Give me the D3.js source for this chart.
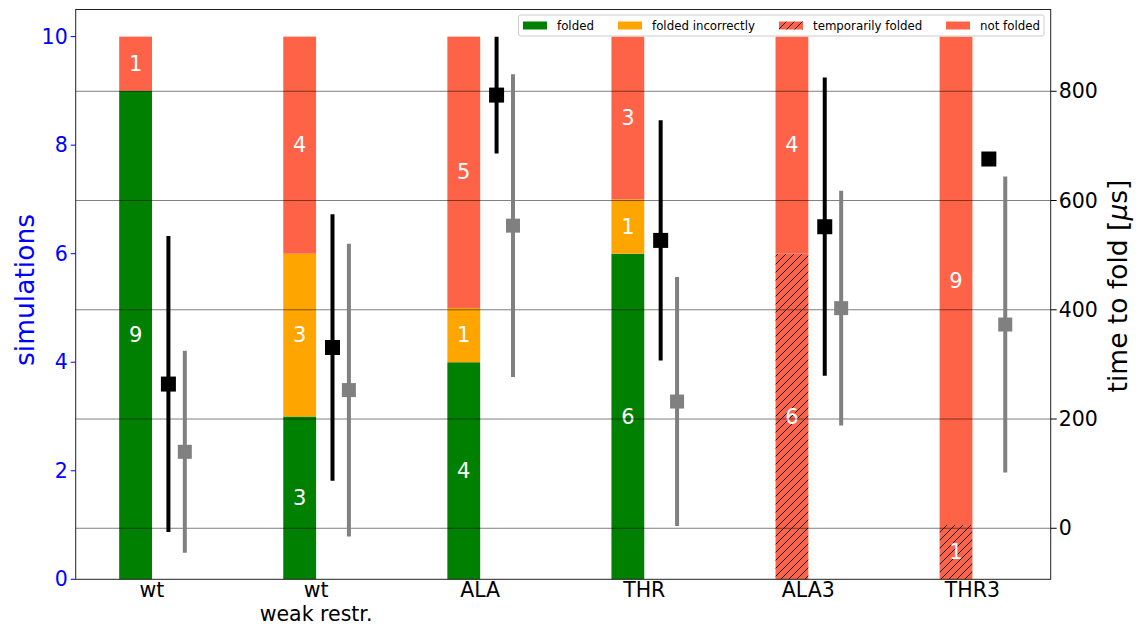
<!DOCTYPE html>
<html>
<head>
<meta charset="utf-8">
<script src="https://cdn.jsdelivr.net/npm/d3@7"></script>
<style>
  html, body { margin: 0; padding: 0; background: #fff; }
  svg { display: block; font-family: "DejaVu Sans", sans-serif; }
</style>
</head>
<body>
<svg id="chart" width="1139" height="626"></svg>
<script>
// Simulation outcomes per variant (number of runs, 10 each)
const categories = ["wt", "wt\nweak restr.", "ALA", "THR", "ALA3", "THR3"];
const folded            = [9, 3, 4, 6, 0, 0];
const foldedIncorrectly = [0, 3, 1, 1, 0, 0];
const temporarilyFolded = [0, 0, 0, 0, 6, 1];
const notFolded         = [1, 4, 5, 3, 4, 9];

// Time to fold [µs]: mean and standard deviation, two estimates
const timeMean  = [264, 331, 793, 527, 552, 676];
const timeSd    = [271, 244, 107, 220, 273, 0];
const time2Mean = [140, 253, 554, 232, 403, 373];
const time2Sd   = [185, 268, 277, 228, 215, 271];

const leftTicks  = [0, 2, 4, 6, 8, 10];
const rightTicks = [0, 200, 400, 600, 800];

const segmentNames  = ["folded", "folded incorrectly", "temporarily folded", "not folded"];
const segmentColors = ["#008000", "#ffa500", "url(#hatch)", "#ff6347"];

const svg = d3.select("#chart");
const plot = { left: 75.7, right: 1050.7, top: 9.5, bottom: 579.3 };

const x  = d3.scaleLinear().domain([-0.465, 5.477]).range([plot.left, plot.right]);
const yL = d3.scaleLinear().domain([0, 10.5]).range([plot.bottom, plot.top]);
const yR = d3.scaleLinear().domain([-93.4, 949.7]).range([plot.bottom, plot.top]);

// Diagonal hatch used for "temporarily folded"
const defs = svg.append("defs");
const pat = defs.append("pattern")
  .attr("id", "hatch").attr("patternUnits", "userSpaceOnUse")
  .attr("width", 8).attr("height", 8);
pat.append("rect").attr("width", 8).attr("height", 8).attr("fill", "#ff6347");
pat.append("path")
  .attr("d", "M0,8 L8,0 M-2,2 L2,-2 M6,10 L10,6")
  .attr("stroke", "#000").attr("stroke-width", 0.9);

const clip = defs.append("clipPath").attr("id", "plotClip");
clip.append("rect").attr("x", plot.left).attr("y", plot.top)
  .attr("width", plot.right - plot.left).attr("height", plot.bottom - plot.top);

// Stacked bars
const series = [folded, foldedIncorrectly, temporarilyFolded, notFolded];
const rows = categories.map((c, i) => {
  const r = { i };
  segmentNames.forEach((n, k) => r[n] = series[k][i]);
  return r;
});
const stacked = d3.stack().keys(segmentNames)(rows);
const barW = 0.2;

const barG = svg.append("g");
stacked.forEach((layer, k) => {
  layer.forEach(d => {
    const v = d[1] - d[0];
    if (v <= 0) return;
    const i = d.data.i;
    barG.append("rect")
      .attr("x", x(i - barW))
      .attr("width", x(i) - x(i - barW))
      .attr("y", yL(d[1]))
      .attr("height", yL(d[0]) - yL(d[1]))
      .attr("fill", segmentColors[k]);
    barG.append("text")
      .attr("x", x(i - barW / 2))
      .attr("y", yL((d[0] + d[1]) / 2))
      .attr("text-anchor", "middle")
      .attr("dominant-baseline", "central")
      .attr("fill", "#fff")
      .attr("font-size", 21)
      .text(v);
  });
});

// Horizontal grid at the right-axis ticks
svg.append("g").selectAll("line").data(rightTicks).join("line")
  .attr("x1", plot.left).attr("x2", plot.right)
  .attr("y1", d => yR(d)).attr("y2", d => yR(d))
  .attr("stroke", "#000").attr("stroke-opacity", 0.5).attr("stroke-width", 1);

// Error bars (mean ± sd) on the right axis
function errorSeries(means, sds, offset, color, size) {
  const g = svg.append("g").attr("clip-path", "url(#plotClip)");
  means.forEach((m, i) => {
    const cx = x(i + offset);
    if (sds[i] > 0) {
      g.append("line")
        .attr("x1", cx).attr("x2", cx)
        .attr("y1", yR(m - sds[i])).attr("y2", yR(m + sds[i]))
        .attr("stroke", color).attr("stroke-width", 4);
    }
    g.append("rect")
      .attr("x", cx - size / 2).attr("y", yR(m) - size / 2)
      .attr("width", size).attr("height", size)
      .attr("fill", color);
  });
}
errorSeries(timeMean, timeSd, 0.1, "#000", 15);
errorSeries(time2Mean, time2Sd, 0.2, "#808080", 14);

// Frame
svg.append("rect")
  .attr("x", plot.left).attr("y", plot.top)
  .attr("width", plot.right - plot.left).attr("height", plot.bottom - plot.top)
  .attr("fill", "none").attr("stroke", "#222").attr("stroke-width", 1);

// Left axis (simulations)
const leftAxis = svg.append("g");
leftTicks.forEach(t => {
  leftAxis.append("line")
    .attr("x1", plot.left - 5).attr("x2", plot.left)
    .attr("y1", yL(t)).attr("y2", yL(t))
    .attr("stroke", "#0000ff").attr("stroke-width", 1);
  leftAxis.append("text")
    .attr("x", plot.left - 8).attr("y", yL(t))
    .attr("text-anchor", "end").attr("dominant-baseline", "central")
    .attr("fill", "#0000ff").attr("font-size", 20.5)
    .text(t);
});
svg.append("text")
  .attr("transform", `translate(24,290) rotate(-90)`)
  .attr("text-anchor", "middle").attr("dominant-baseline", "central")
  .attr("fill", "#0000ff").attr("font-size", 26.5)
  .text("simulations");

// Right axis (time to fold)
const rightAxis = svg.append("g");
rightTicks.forEach(t => {
  rightAxis.append("line")
    .attr("x1", plot.right).attr("x2", plot.right + 6)
    .attr("y1", yR(t)).attr("y2", yR(t))
    .attr("stroke", "#000").attr("stroke-width", 1);
  rightAxis.append("text")
    .attr("x", plot.right + 8).attr("y", yR(t))
    .attr("dominant-baseline", "central")
    .attr("fill", "#000").attr("font-size", 20.5)
    .text(t);
});
const rLabel = svg.append("text")
  .attr("transform", `translate(1117,286) rotate(-90)`)
  .attr("text-anchor", "middle").attr("dominant-baseline", "central")
  .attr("fill", "#000").attr("font-size", 26.5);
rLabel.append("tspan").text("time to fold [");
rLabel.append("tspan").attr("font-style", "italic").text("\u03bc");
rLabel.append("tspan").text("s]");

// Category labels
categories.forEach((c, i) => {
  const lines = c.split("\n");
  const t = svg.append("text")
    .attr("x", x(i)).attr("y", 597)
    .attr("text-anchor", "middle")
    .attr("fill", "#000").attr("font-size", 20.5);
  lines.forEach((ln, j) => {
    t.append("tspan").attr("x", x(i)).attr("dy", j === 0 ? 0 : 24).text(ln);
  });
});

// Legend
const legend = svg.append("g");
legend.append("rect")
  .attr("x", 518.5).attr("y", 15).attr("width", 525.5).attr("height", 21)
  .attr("rx", 2).attr("fill", "#fff").attr("fill-opacity", 0.85)
  .attr("stroke", "#ccc").attr("stroke-width", 1);
const legendX = [523, 618, 779, 946];
segmentNames.forEach((n, k) => {
  legend.append("rect")
    .attr("x", legendX[k]).attr("y", 21.5).attr("width", 24).attr("height", 8)
    .attr("fill", segmentColors[k]);
  legend.append("text")
    .attr("x", legendX[k] + 34).attr("y", 25.5)
    .attr("dominant-baseline", "central")
    .attr("fill", "#000").attr("font-size", 11.8)
    .text(n);
});
</script>
</body>
</html>
